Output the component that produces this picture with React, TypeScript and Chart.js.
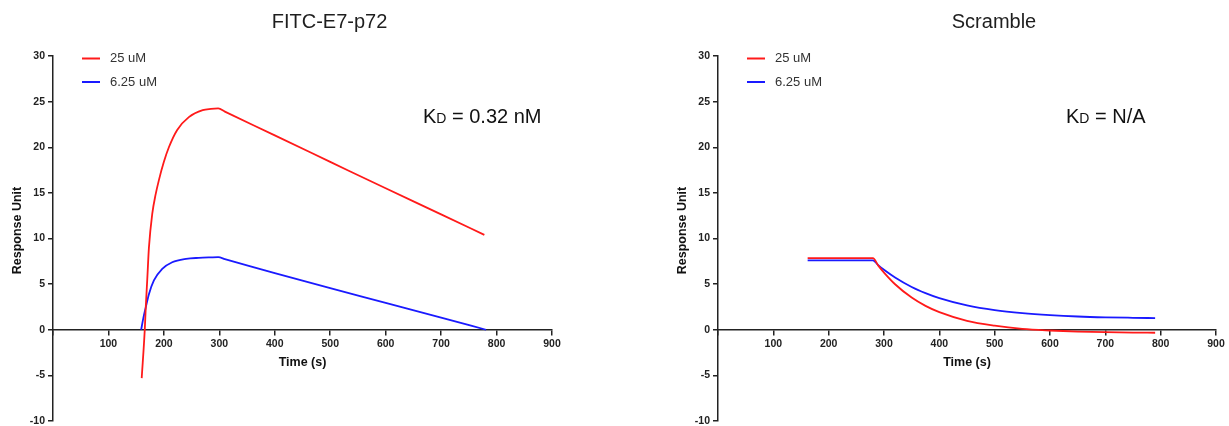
import React, { useEffect, useRef } from 'react';
import { Chart, registerables } from 'chart.js';

Chart.register(...registerables);

const FONT = '"Liberation Sans", Arial, Helvetica, sans-serif';

// ---- data ----
const seriesLabels = ['25 uM', '6.25 uM'];
const seriesColors = ['#ff1a1a', '#1a1aff'];
const chartTitles = ['FITC-E7-p72', 'Scramble'];
const kdTexts = [' = 0.32 nM', ' = N/A'];
const xAxisTitle = 'Time (s)';
const yAxisTitle = 'Response Unit';

// FITC-E7-p72
const fitcT25 = [160, 165.5, 167.3, 170, 173, 179, 185, 191, 200, 209, 224, 245, 270, 285, 298, 310, 400, 500, 600, 700, 778];
const fitcR25 = [-5.3, 0, 2.45, 5.5, 9.0, 12.7, 14.8, 16.4, 18.4, 20.0, 21.9, 23.3, 24.07, 24.2, 24.25, 23.9, 21.3, 18.4, 15.5, 12.65, 10.4];
const fitcT625 = [159, 163, 167.3, 173, 182, 197, 215, 240, 263, 285, 298, 310, 400, 500, 600, 700, 781];
const fitcR625 = [0, 1.3, 2.45, 3.9, 5.4, 6.67, 7.4, 7.77, 7.88, 7.93, 7.95, 7.75, 6.2, 4.55, 2.95, 1.33, 0];

// Scramble
const scrT = [162, 280, 290, 300, 320, 350, 375, 400, 450, 500, 550, 600, 650, 700, 750, 790];
const scrR25 = [7.85, 7.85, 7.0, 6.27, 4.99, 3.53, 2.62, 1.93, 0.98, 0.45, 0.1, -0.08, -0.2, -0.27, -0.31, -0.33];
const scrR625 = [7.6, 7.6, 7.05, 6.58, 5.73, 4.69, 4.02, 3.47, 2.67, 2.15, 1.82, 1.6, 1.45, 1.36, 1.31, 1.28];

const xMin = 0, xMax = 900, xStep = 100;
const yMin = -10, yMax = 30, yStep = 5;

const pts = (t: number[], r: number[]) => t.map((x, i) => ({ x, y: r[i] }));

const overlay = {
  id: 'overlay',
  afterDraw(chart: any, _args: any, opts: any) {
    const { ctx, chartArea: a, scales } = chart;
    const cx = (a.left + a.right) / 2;
    ctx.save();
    // title
    ctx.fillStyle = '#1e1e1e';
    ctx.textBaseline = 'middle';
    ctx.textAlign = 'center';
    ctx.font = `20px ${FONT}`;
    ctx.fillText(opts.title, cx + 27, 22);
    // x axis title
    ctx.fillStyle = '#111';
    ctx.font = `bold 12.5px ${FONT}`;
    ctx.fillText(xAxisTitle, cx, scales.y.getPixelForValue(0) + 33);
    // y axis title
    ctx.save();
    ctx.translate(a.left - 35, (a.top + a.bottom) / 2 - 8);
    ctx.rotate(-Math.PI / 2);
    ctx.fillText(yAxisTitle, 0, 0);
    ctx.restore();
    // legend
    chart.data.datasets.forEach((ds: any, i: number) => {
      const y = 58.5 + i * 23.5;
      ctx.strokeStyle = ds.borderColor;
      ctx.lineWidth = 2;
      ctx.beginPath();
      ctx.moveTo(a.left + 29, y);
      ctx.lineTo(a.left + 47, y);
      ctx.stroke();
      ctx.textAlign = 'left';
      ctx.font = `13px ${FONT}`;
      ctx.fillStyle = '#333';
      ctx.fillText(ds.label, a.left + 57, y);
    });
    // KD
    ctx.textBaseline = 'alphabetic';
    ctx.textAlign = 'left';
    ctx.fillStyle = '#111';
    let x = a.left + opts.kdOffset;
    const base = 123;
    ctx.font = `20px ${FONT}`;
    ctx.fillText('K', x, base);
    x += ctx.measureText('K').width;
    ctx.font = `14px ${FONT}`;
    ctx.fillText('D', x, base);
    x += ctx.measureText('D').width;
    ctx.font = `20px ${FONT}`;
    ctx.fillText(opts.kd, x, base);
    ctx.restore();
  },
};

function makeConfig(idx: number, datasets: any[], padRight: number, kdOffset: number): any {
  return {
    type: 'line',
    data: { datasets },
    plugins: [overlay],
    options: {
      animation: false,
      responsive: false,
      layout: { padding: { top: 56, left: 0, right: padRight, bottom: 19 } },
      plugins: {
        legend: { display: false },
        tooltip: { enabled: false },
        title: { display: false },
        overlay: { title: chartTitles[idx], kd: kdTexts[idx], kdOffset },
      },
      elements: { point: { radius: 0 }, line: { borderWidth: 1.8 } },
      scales: {
        x: {
          type: 'linear',
          min: xMin,
          max: xMax,
          position: { y: 0 },
          afterFit: (s: any) => { s.height = 0; },
          ticks: {
            stepSize: xStep,
            autoSkip: false,
            maxRotation: 0,
            padding: 3,
            color: '#222',
            font: { family: FONT, size: 10.5, weight: 'bold' },
            callback: (v: number) => (v === 0 ? '' : String(v)),
          },
          grid: { drawOnChartArea: false, drawTicks: true, tickLength: 5, color: '#222', lineWidth: 1.5 },
          border: { display: true, color: '#222', width: 1.5 },
          title: { display: false },
        },
        y: {
          type: 'linear',
          min: yMin,
          max: yMax,
          position: 'left',
          afterFit: (s: any) => { s.width = 53; },
          ticks: {
            stepSize: yStep,
            padding: 3,
            color: '#222',
            font: { family: FONT, size: 10.5, weight: 'bold' },
          },
          grid: { drawOnChartArea: false, drawTicks: true, tickLength: 5, color: '#222', lineWidth: 1.5 },
          border: { display: true, color: '#222', width: 1.5 },
          title: { display: false },
        },
      },
    },
  };
}

function ds(label: string, color: string, data: any[]) {
  return {
    label,
    data,
    borderColor: color,
    backgroundColor: color,
    borderWidth: 1.8,
    pointRadius: 0,
    fill: false,
    cubicInterpolationMode: 'monotone',
  };
}

export default function App() {
  const leftRef = useRef<HTMLCanvasElement>(null);
  const rightRef = useRef<HTMLCanvasElement>(null);

  useEffect(() => {
    const c1 = new Chart(
      leftRef.current as HTMLCanvasElement,
      makeConfig(0, [
        ds(seriesLabels[0], seriesColors[0], pts(fitcT25, fitcR25)),
        ds(seriesLabels[1], seriesColors[1], pts(fitcT625, fitcR625)),
      ], 62, 370)
    );
    const c2 = new Chart(
      rightRef.current as HTMLCanvasElement,
      makeConfig(1, [
        ds(seriesLabels[0], seriesColors[0], pts(scrT, scrR25)),
        ds(seriesLabels[1], seriesColors[1], pts(scrT, scrR625)),
      ], 13, 348)
    );
    return () => {
      c1.destroy();
      c2.destroy();
    };
  }, []);

  return (
    <div style={{ position: 'fixed', left: 0, top: 0, width: 1229, height: 426, overflow: 'hidden', background: '#fff' }}>
      <canvas ref={leftRef} width={614} height={440} style={{ position: 'absolute', left: 0, top: 0, display: 'block' }} />
      <canvas ref={rightRef} width={564} height={440} style={{ position: 'absolute', left: 665, top: 0, display: 'block' }} />
    </div>
  );
}
